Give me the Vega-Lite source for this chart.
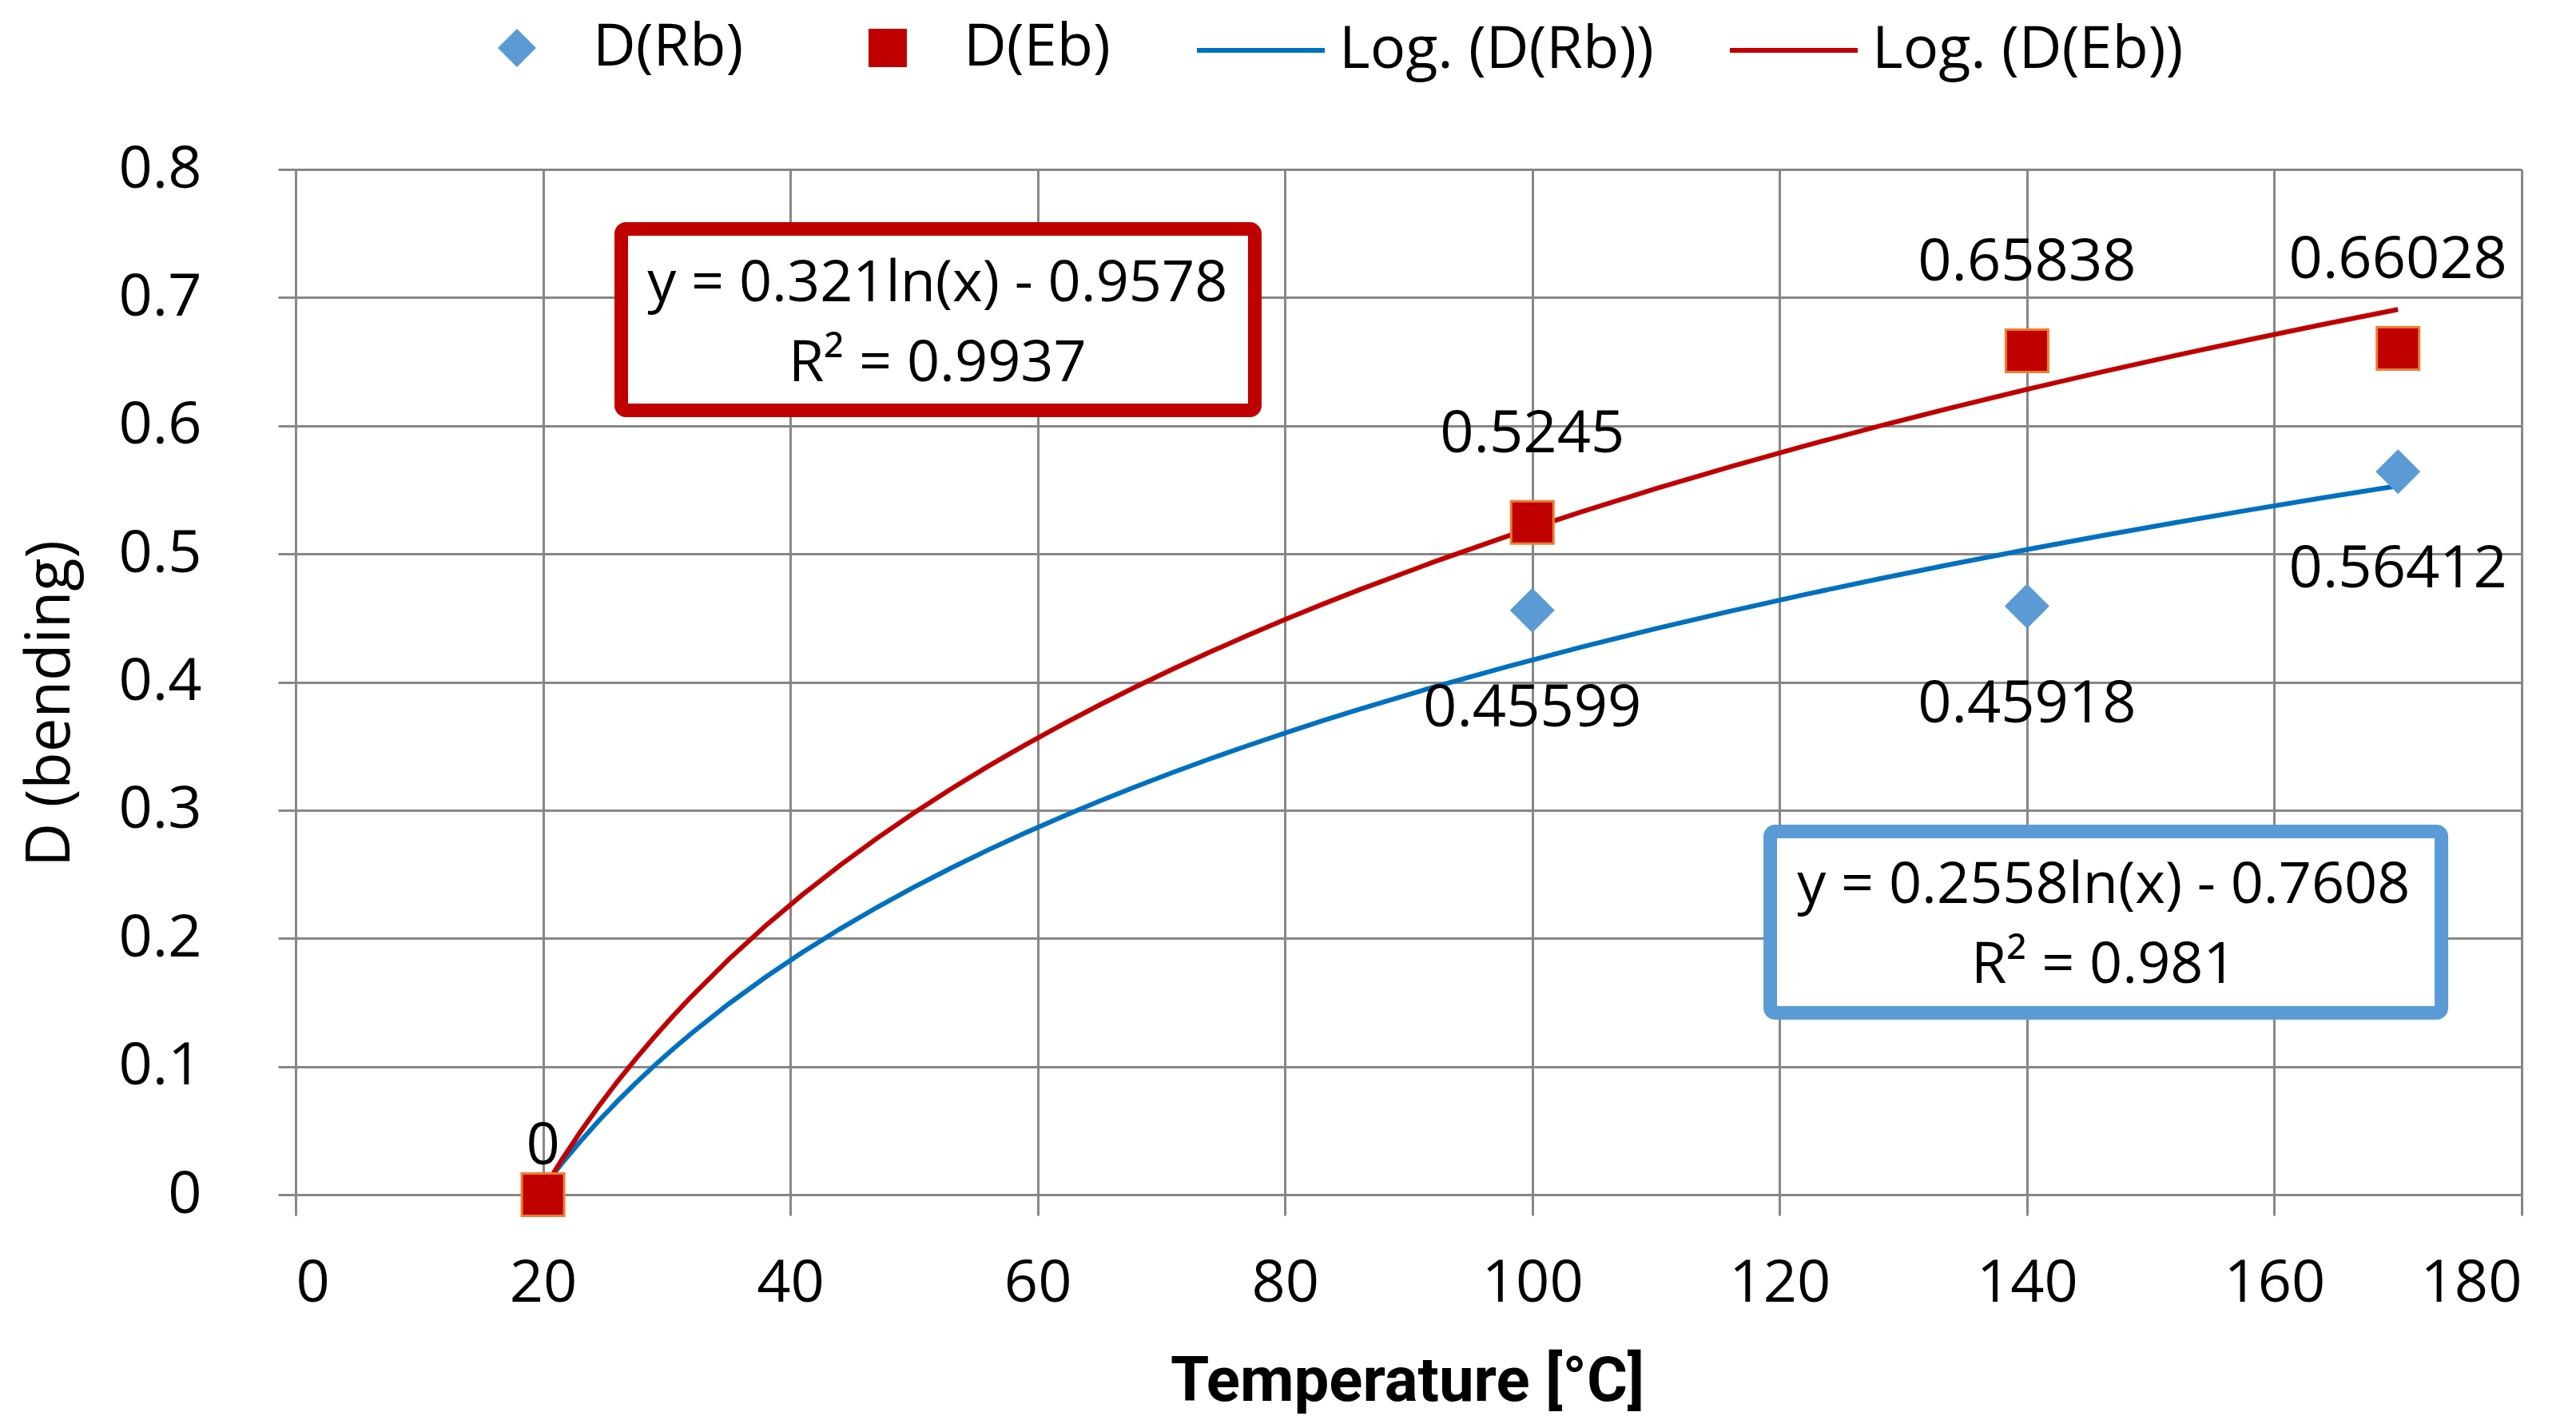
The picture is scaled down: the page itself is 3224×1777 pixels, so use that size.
{
  "$schema": "https://vega.github.io/schema/vega-lite/v6.json",
  "autosize": {"type": "none"},
  "width": 2786,
  "height": 1283,
  "padding": {"left": 370, "top": 212, "right": 68, "bottom": 282},
  "background": "white",
  "config": {
    "font": "Open Sans",
    "view": {"stroke": null},
    "axis": {
      "gridColor": "#878787", "gridWidth": 3, "gridOpacity": 1,
      "domainColor": "#878787", "domainWidth": 3,
      "tickColor": "#878787", "tickWidth": 3,
      "labelColor": "#000000", "labelFont": "Open Sans", "labelFontSize": 74,
      "titleColor": "#000000"
    },
    "legend": {
      "labelFont": "Open Sans", "labelFontSize": 74, "labelColor": "#000000",
      "labelLimit": 1000, "padding": 0, "direction": "horizontal", "orient": "none"
    }
  },
  "datasets": {
    "pts": [
      {"T": 20, "D": 0, "series": "D(Rb)", "trend": "Log. (D(Rb))", "label": "0"},
      {"T": 100, "D": 0.45599, "series": "D(Rb)", "trend": "Log. (D(Rb))", "label": "0.45599"},
      {"T": 140, "D": 0.45918, "series": "D(Rb)", "trend": "Log. (D(Rb))", "label": "0.45918"},
      {"T": 170, "D": 0.56412, "series": "D(Rb)", "trend": "Log. (D(Rb))", "label": "0.56412"},
      {"T": 20, "D": 0, "series": "D(Eb)", "trend": "Log. (D(Eb))", "label": "0"},
      {"T": 100, "D": 0.5245, "series": "D(Eb)", "trend": "Log. (D(Eb))", "label": "0.5245"},
      {"T": 140, "D": 0.65838, "series": "D(Eb)", "trend": "Log. (D(Eb))", "label": "0.65838"},
      {"T": 170, "D": 0.66028, "series": "D(Eb)", "trend": "Log. (D(Eb))", "label": "0.66028"}
    ],
    "boxes": [
      {"box": "Eb", "x1": 26.33, "x2": 77.56, "y1": 0.612, "y2": 0.7536},
      {"box": "Rb", "x1": 119.24, "x2": 173.51, "y1": 0.1419, "y2": 0.2834}
    ],
    "eqs": [
      {"box": "Eb", "T": 51.9, "D": 0.6971, "txt": "y = 0.321ln(x) - 0.9578"},
      {"box": "Eb", "T": 51.9, "D": 0.6348, "txt": "R² = 0.9937"},
      {"box": "Rb", "T": 146.2, "D": 0.2276, "txt": "y = 0.2558ln(x) - 0.7608"},
      {"box": "Rb", "T": 146.2, "D": 0.1652, "txt": "R² = 0.981"}
    ]
  },
  "encoding": {
    "x": {
      "field": "T", "type": "quantitative",
      "scale": {"domain": [0, 180], "nice": false, "zero": false},
      "axis": {
        "values": [0, 20, 40, 60, 80, 100, 120, 140, 160, 180],
        "tickSize": 26, "labelPadding": 49,
        "title": "Temperature [°C]",
        "titleFont": "Roboto", "titleFontSize": 78, "titleFontWeight": "bold",
        "titleBaseline": "alphabetic", "titleX": 1391, "titleY": 257, "titleAlign": "center"
      }
    },
    "y": {
      "field": "D", "type": "quantitative",
      "scale": {"domain": [0, 0.8], "nice": false},
      "axis": {
        "values": [0, 0.1, 0.2, 0.3, 0.4, 0.5, 0.6, 0.7, 0.8],
        "format": ".1~f",
        "tickSize": 22, "labelPadding": 96,
        "title": "D (bending)",
        "titleFont": "Open Sans", "titleFontSize": 76, "titleFontWeight": "normal",
        "titleAngle": -90, "titleBaseline": "alphabetic", "titleAlign": "center",
        "titleX": -284, "titleY": 668
      }
    }
  },
  "layer": [
    {
      "data": {"name": "pts"},
      "transform": [
        {"regression": "D", "on": "T", "method": "log", "groupby": ["trend"], "extent": [20, 170]}
      ],
      "mark": {"type": "line", "strokeWidth": 6},
      "encoding": {
        "stroke": {
          "field": "trend", "type": "nominal",
          "scale": {"domain": ["Log. (D(Rb))", "Log. (D(Eb))"], "range": ["#0070C0", "#C00000"]},
          "legend": {
            "title": null,
            "orient": "none",
            "legendX": 1125,
            "legendY": -232,
            "direction": "horizontal",
            "columnPadding": 83,
            "symbolType": "stroke",
            "symbolSize": 25600,
            "symbolStrokeWidth": 6,
            "labelOffset": 15
          }
        }
      }
    },
    {
      "data": {"name": "pts"},
      "transform": [{"filter": "datum.series === 'D(Rb)'"}],
      "mark": {"type": "point", "filled": true, "size": 3136, "opacity": 1},
      "encoding": {
        "fill": {
          "field": "series", "type": "nominal",
          "scale": {"domain": ["D(Rb)", "D(Eb)"], "range": ["#5B9BD5", "#C00000"]},
          "legend": {
            "title": null,
            "orient": "none",
            "legendX": 240,
            "legendY": -189,
            "direction": "horizontal",
            "columnPadding": 143,
            "symbolSize": 2304,
            "symbolStrokeWidth": 0,
            "symbolOpacity": 1,
            "labelOffset": 58
          }
        },
        "shape": {
          "field": "series", "type": "nominal",
          "scale": {"domain": ["D(Rb)", "D(Eb)"], "range": ["diamond", "square"]},
          "legend": {
            "title": null,
            "orient": "none",
            "legendX": 240,
            "legendY": -189,
            "direction": "horizontal",
            "columnPadding": 143,
            "symbolSize": 2304,
            "symbolStrokeWidth": 0,
            "symbolOpacity": 1,
            "labelOffset": 58
          }
        }
      }
    },
    {
      "data": {"name": "pts"},
      "transform": [{"filter": "datum.series === 'D(Eb)'"}],
      "mark": {"type": "point", "filled": true, "size": 2809, "opacity": 1, "stroke": "#ED7D31", "strokeWidth": 3},
      "encoding": {
        "fill": {"field": "series", "type": "nominal"},
        "shape": {"field": "series", "type": "nominal"}
      }
    },
    {
      "data": {"name": "pts"},
      "transform": [{"filter": "datum.series === 'D(Rb)' && datum.D > 0"}],
      "mark": {"type": "text", "font": "Open Sans", "fontSize": 74, "fill": "#000000", "baseline": "alphabetic", "align": "center", "dy": 145},
      "encoding": {"text": {"field": "label"}}
    },
    {
      "data": {"name": "pts"},
      "transform": [{"filter": "datum.series === 'D(Eb)' && datum.D > 0"}],
      "mark": {"type": "text", "font": "Open Sans", "fontSize": 74, "fill": "#000000", "baseline": "alphabetic", "align": "center", "dy": -88},
      "encoding": {"text": {"field": "label"}}
    },
    {
      "data": {"name": "pts"},
      "transform": [{"filter": "datum.series === 'D(Eb)' && datum.D === 0"}],
      "mark": {"type": "text", "font": "Open Sans", "fontSize": 74, "fill": "#000000", "baseline": "alphabetic", "align": "center", "dy": -38},
      "encoding": {"text": {"field": "label"}}
    },
    {
      "data": {"name": "boxes"},
      "transform": [{"filter": "datum.box === 'Eb'"}],
      "mark": {"type": "rect", "fill": "white", "stroke": "#C00000", "strokeWidth": 17, "cornerRadius": 6},
      "encoding": {
        "x": {"field": "x1", "type": "quantitative"},
        "x2": {"field": "x2"},
        "y": {"field": "y1", "type": "quantitative"},
        "y2": {"field": "y2"}
      }
    },
    {
      "data": {"name": "boxes"},
      "transform": [{"filter": "datum.box === 'Rb'"}],
      "mark": {"type": "rect", "fill": "white", "stroke": "#5B9BD5", "strokeWidth": 17, "cornerRadius": 6},
      "encoding": {
        "x": {"field": "x1", "type": "quantitative"},
        "x2": {"field": "x2"},
        "y": {"field": "y1", "type": "quantitative"},
        "y2": {"field": "y2"}
      }
    },
    {
      "data": {"name": "eqs"},
      "mark": {"type": "text", "font": "Open Sans", "fontSize": 72, "fill": "#000000", "baseline": "alphabetic", "align": "center"},
      "encoding": {"text": {"field": "txt"}}
    }
  ]
}
